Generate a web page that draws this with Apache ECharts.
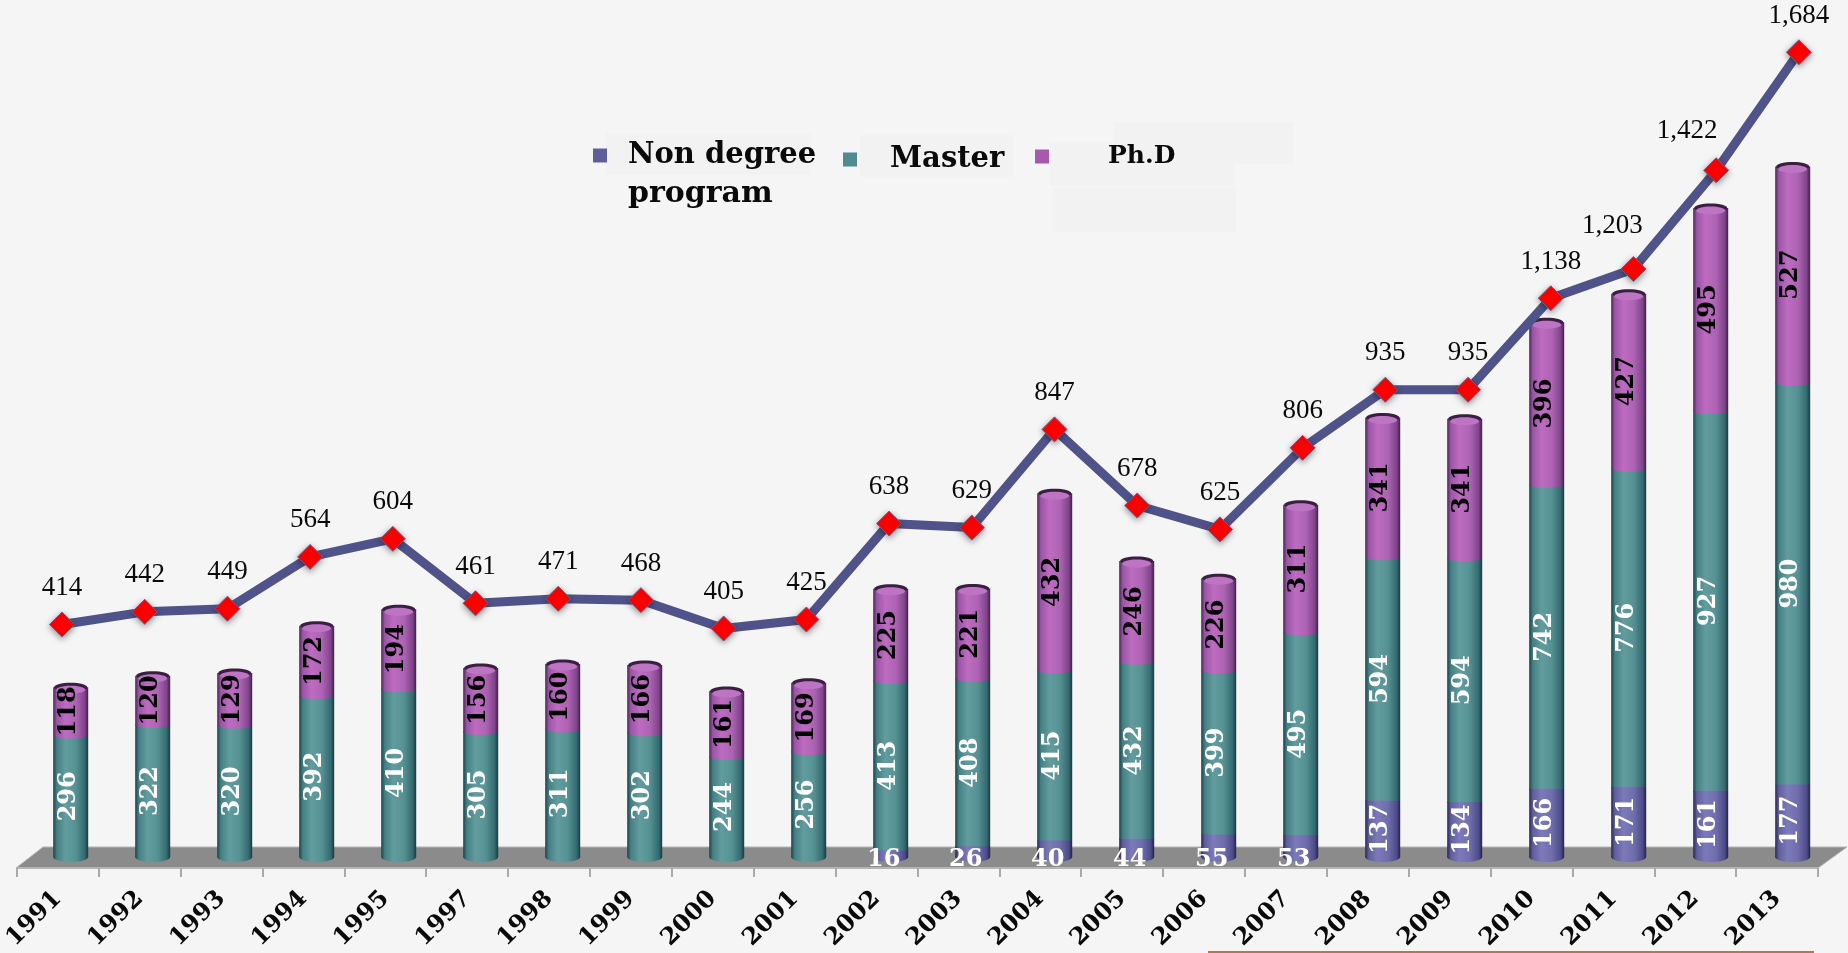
<!DOCTYPE html>
<html>
<head>
<meta charset="utf-8">
<style>
html, body { margin: 0; padding: 0; background: #f5f5f5; }
#main { width: 1848px; height: 953px; }
</style>
<script src="https://cdn.jsdelivr.net/npm/echarts@6/dist/echarts.min.js"></script>
</head>
<body>
<div id="main"></div>
<script>
var years = ['1991','1992','1993','1994','1995','1997','1998','1999','2000','2001','2002','2003','2004','2005','2006','2007','2008','2009','2010','2011','2012','2013'];
var nonDegree = [0,0,0,0,0,0,0,0,0,0,16,26,40,44,55,53,137,134,166,171,161,177];
var master = [296,322,320,392,410,305,311,302,244,256,413,408,415,432,399,495,594,594,742,776,927,980];
var phd = [118,120,129,172,194,156,160,166,161,169,225,221,432,246,226,311,341,341,396,427,495,527];
var totals = [414,442,449,564,604,461,471,468,405,425,638,629,847,678,625,806,935,935,1138,1203,1422,1684];

// a few total labels sit up and left of their marker
var labelShift = { '2011': [-21, -7], '2012': [-29, -3] };

var serifBold = '"DejaVu Serif"';
var barWidth = 35;

var myChart = echarts.init(document.getElementById('main'));

function barGradient(stops) {
    return new echarts.graphic.LinearGradient(0, 0, 1, 0, stops.map(function (c, i) {
        return { offset: [0, 0.1, 0.35, 0.65, 0.9, 1][i], color: c };
    }));
}
var blueFill = barGradient(['#26264f', '#5f5e9c', '#7c7ab8', '#6f6dac', '#4d4c88', '#22224a']);
var tealFill = barGradient(['#1c4046', '#437f84', '#639c9e', '#559193', '#336a70', '#183a40']);
var purpleFill = barGradient(['#47264f', '#9a55a6', '#bd6cc0', '#ae63b4', '#7f448a', '#3c2046']);

// draws one cylinder piece between two stacked values
function cylinder(fill, textColor, isTop) {
    return function (params, api) {
        var start = api.value(1), end = api.value(2), val = api.value(3);
        if (!val) return { type: 'group', children: [] };
        var p0 = api.coord([api.value(0), start]);
        var p1 = api.coord([api.value(0), end]);
        var cx = p0[0], w = barWidth;
        var kids = [
            { type: 'ellipse', shape: { cx: cx, cy: p0[1], rx: w / 2, ry: start === 0 ? 5 : 3 }, style: { fill: fill } },
            { type: 'rect', shape: { x: cx - w / 2, y: p1[1], width: w, height: p0[1] - p1[1] }, style: { fill: fill } }
        ];
        if (isTop) {
            kids.push({ type: 'ellipse', shape: { cx: cx, cy: p1[1], rx: w / 2 - 1, ry: 4.5 }, style: { fill: '#3a1f42' } });
            kids.push({ type: 'ellipse', shape: { cx: cx, cy: p1[1] + 2.5, rx: w / 2 - 3, ry: 4 }, style: { fill: '#bd74c2' } });
        }
        var flat = val < 100;
        kids.push({
            type: 'text',
            x: flat ? cx - 7 : cx - 2,
            y: flat ? p0[1] + 3 : (p0[1] + p1[1]) / 2,
            rotation: flat ? 0 : Math.PI / 2,
            style: {
                text: String(val),
                fill: textColor,
                font: 'bold 24px ' + serifBold,
                align: 'center',
                verticalAlign: 'middle'
            }
        });
        return { type: 'group', children: kids };
    };
}

// stack the three groups by hand so the custom series get start and end
function stacked(values, below) {
    return values.map(function (v, i) {
        var s = 0;
        below.forEach(function (b) { s += b[i]; });
        return [i, s, s + v, v];
    });
}

function legendItem(name, left, top, size, pad) {
    return {
        data: [name], left: left, top: top, padding: 0,
        orient: 'horizontal', icon: 'rect', itemWidth: 14, itemHeight: 14,
        selectedMode: false,
        textStyle: { fontFamily: serifBold, fontWeight: 'bold', fontSize: size, color: '#0a0a0a', padding: [0, 0, 0, pad] }
    };
}

function patch(x, y, w, h) {
    return { type: 'rect', z: 0, shape: { x: x, y: y, width: w, height: h }, style: { fill: '#f2f2f2' } };
}

var option = {
    backgroundColor: '#f5f5f5',
    animation: false,
    legend: [
        legendItem('Non degree', 593, 141, 29, 16),
        legendItem('Master', 843, 145, 29, 28),
        legendItem('Ph.D', 1035, 144, 25, 54)
    ],
    graphic: [
        patch(606, 133, 205, 42),
        patch(860, 135, 153, 42),
        patch(1050, 143, 184, 43),
        patch(1053, 188, 183, 44),
        patch(1114, 122, 179, 42),
        { type: 'polygon', z: 0, shape: { points: [[16, 868], [43, 847], [1847, 847], [1818, 868]] }, style: { fill: '#8b8b8b', stroke: '#b5b5b5', lineWidth: 1 } },
        { type: 'text', z: 3, x: 628, y: 179, style: { text: 'program', fill: '#0a0a0a', font: 'bold 30px ' + serifBold } },
        { type: 'rect', z: 0, shape: { x: 1208, y: 951, width: 606, height: 2 }, style: { fill: '#a9795a' } }
    ],
    grid: [
        { left: 29.7, width: 1804, top: 37, height: 820 },
        { left: 20.65, width: 1819.6, top: -1, height: 812 },
        { left: 16, width: 1802, top: 867, height: 1 }
    ],
    xAxis: [
        { type: 'category', gridIndex: 0, data: years, show: false },
        { type: 'category', gridIndex: 1, data: years, show: false },
        {
            type: 'category', gridIndex: 2, data: years,
            axisLine: { lineStyle: { color: '#b5b5b5', width: 2 } },
            axisTick: { show: true, length: 9, lineStyle: { color: '#aaaaaa', width: 2 } },
            axisLabel: {
                rotate: 45, interval: 0, margin: 27,
                fontFamily: serifBold, fontWeight: 'bold', fontSize: 24, color: '#0a0a0a'
            }
        }
    ],
    yAxis: [
        { type: 'value', gridIndex: 0, min: 0, max: 2000, show: false },
        { type: 'value', gridIndex: 1, min: 0, max: 1800, show: false },
        { type: 'value', gridIndex: 2, show: false }
    ],
    series: [
        {
            name: 'Non degree', type: 'custom', z: 4, clip: false,
            xAxisIndex: 0, yAxisIndex: 0,
            encode: { x: 0, y: [1, 2] },
            itemStyle: { color: '#5f5e9c' },
            renderItem: cylinder(blueFill, '#ffffff', false),
            data: stacked(nonDegree, [])
        },
        {
            name: 'Master', type: 'custom', z: 3, clip: false,
            xAxisIndex: 0, yAxisIndex: 0,
            encode: { x: 0, y: [1, 2] },
            itemStyle: { color: '#4f8b90' },
            renderItem: cylinder(tealFill, '#ffffff', false),
            data: stacked(master, [nonDegree])
        },
        {
            name: 'Ph.D', type: 'custom', z: 4, clip: false,
            xAxisIndex: 0, yAxisIndex: 0,
            encode: { x: 0, y: [1, 2] },
            itemStyle: { color: '#a858ae' },
            renderItem: cylinder(purpleFill, '#000000', true),
            data: stacked(phd, [nonDegree, master])
        },
        {
            name: 'Total', type: 'line', z: 5,
            xAxisIndex: 1, yAxisIndex: 1,
            symbol: 'diamond', symbolSize: 25,
            lineStyle: { color: '#50538a', width: 9 },
            itemStyle: { color: '#ff0000', borderColor: '#6b5f95', borderWidth: 1, shadowBlur: 6, shadowColor: 'rgba(0,0,0,0.4)', shadowOffsetY: 2 },
            label: {
                show: true, position: 'top', distance: 10,
                fontFamily: '"Liberation Serif"', fontSize: 27, color: '#0a0a0a',
                formatter: function (p) { return echarts.format.addCommas(p.value); }
            },
            data: totals.map(function (v, i) {
                var s = labelShift[years[i]];
                return s ? { value: v, label: { offset: s } } : v;
            })
        }
    ]
};
myChart.setOption(option);
</script>
</body>
</html>
